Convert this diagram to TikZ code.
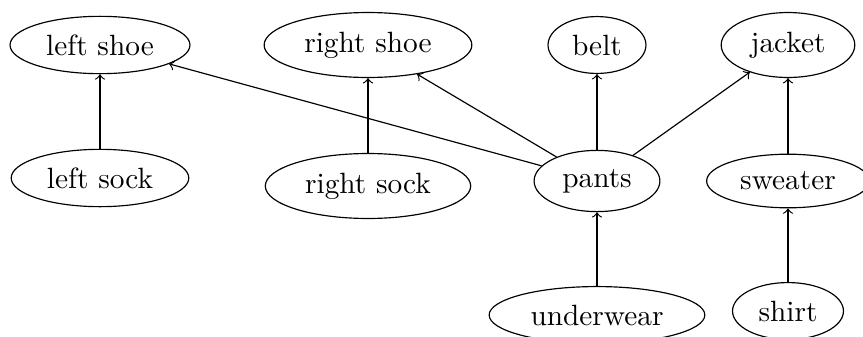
\documentclass[tikz,border=0pt]{standalone}
\usetikzlibrary{shapes.geometric}
\begin{document}
\begin{tikzpicture}[x=0.341pt, y=-0.341pt,
    garment/.style={draw, ellipse},
    every path/.style={->}]
  \path[use as bounding box, clip] (0,0) rectangle (863,337);
  % top row
  \node[garment] (lshoe)  at (100,45)  {left shoe};
  \node[garment] (rshoe)  at (368,45)  {right shoe};
  \node[garment] (belt)   at (597,45)  {belt};
  \node[garment] (jacket) at (788,45)  {jacket};
  % middle row
  \node[garment] (lsock)   at (100,178) {left sock};
  \node[garment] (rsock)   at (368,186) {right sock};
  \node[garment] (pants)   at (597,181) {pants};
  \node[garment] (sweater) at (788,181) {sweater};
  % bottom row
  \node[garment] (uwear) at (597,315) {underwear};
  \node[garment] (shirt) at (788,311) {shirt};
  \draw (lsock) -- (lshoe);
  \draw (rsock) -- (rshoe);
  \draw (pants) -- (lshoe);
  \draw (pants) -- (rshoe);
  \draw (pants) -- (belt);
  \draw (pants) -- (jacket);
  \draw (uwear) -- (pants);
  \draw (sweater) -- (jacket);
  \draw (shirt) -- (sweater);
\end{tikzpicture}
\end{document}
